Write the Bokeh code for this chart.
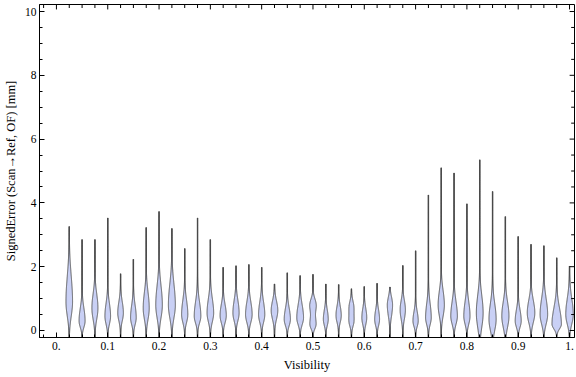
import numpy as np
from bokeh.plotting import figure
from bokeh.models import Range1d, FixedTicker, ColumnDataSource
from bokeh.embed import file_html
from bokeh.resources import INLINE

# ---- data (one violin per visibility bin) ----
visibility = [0.025, 0.05, 0.075, 0.1, 0.125, 0.15, 0.175, 0.2, 0.225, 0.25,
              0.275, 0.3, 0.325, 0.35, 0.375, 0.4, 0.425, 0.45, 0.475, 0.5,
              0.525, 0.55, 0.575, 0.6, 0.625, 0.65, 0.675, 0.7, 0.725, 0.75,
              0.775, 0.8, 0.825, 0.85, 0.875, 0.9, 0.925, 0.95, 0.975, 1.0]
err_max = [3.26, 2.85, 2.85, 3.53, 1.78, 2.23, 3.23, 3.73, 3.20, 2.57,
           3.53, 2.85, 1.98, 2.03, 2.07, 1.98, 1.46, 1.81, 1.72, 1.76,
           1.46, 1.44, 1.31, 1.38, 1.48, 1.36, 2.04, 2.50, 4.25, 5.10,
           4.94, 3.97, 5.35, 4.36, 3.57, 2.95, 2.70, 2.66, 2.28, 2.02]
err_min = [-0.63, -0.60, -0.52, -0.47, -0.37, -0.62, -0.63, -0.60, -0.52, -0.41,
           -0.33, -0.33, -0.31, -0.33, -0.31, -0.29, -0.29, -0.23, -0.29, -0.31,
           -0.33, -0.29, -0.31, -0.31, -0.31, -0.29, -0.31, -0.33, -0.52, -0.44,
           -0.44, -0.26, -1.02, -0.84, -0.73, -0.24, -0.22, -0.37, -0.20, -0.20]
# main mode of each distribution, its spread below / above, relative density
mode1 = [0.90, 0.30, 0.70, 0.45, 0.55, 0.40, 0.70, 0.80, 0.80, 0.50,
         0.45, 0.55, 0.47, 0.55, 0.50, 0.50, 0.63, 0.35, 0.40, 0.20,
         0.35, 0.47, 0.30, 0.40, 0.35, 0.80, 0.65, 0.30, 0.40, 0.80,
         0.45, 0.45, 0.55, 0.35, 0.45, 0.30, 0.55, 0.50, 0.20, 0.50]
spread_lo = [0.45, 0.20, 0.35, 0.25, 0.25, 0.22, 0.35, 0.40, 0.40, 0.25,
             0.22, 0.28, 0.23, 0.25, 0.25, 0.25, 0.28, 0.20, 0.22, 0.15,
             0.20, 0.22, 0.18, 0.22, 0.20, 0.35, 0.30, 0.18, 0.22, 0.35,
             0.25, 0.25, 0.45, 0.35, 0.35, 0.20, 0.30, 0.30, 0.15, 0.30]
spread_hi = [0.80, 0.40, 0.45, 0.40, 0.35, 0.40, 0.50, 0.60, 0.65, 0.45,
             0.45, 0.45, 0.35, 0.40, 0.40, 0.40, 0.30, 0.35, 0.40, 0.25,
             0.30, 0.30, 0.22, 0.30, 0.30, 0.25, 0.30, 0.30, 0.45, 0.45,
             0.45, 0.45, 0.55, 0.50, 0.45, 0.35, 0.40, 0.50, 0.50, 0.50]
density1 = [0.70, 0.64, 0.64, 0.60, 0.60, 0.60, 0.64, 0.70, 0.74, 0.66,
            0.70, 0.70, 0.66, 0.66, 0.70, 0.66, 0.70, 0.66, 0.72, 0.66,
            0.52, 0.56, 0.52, 0.52, 0.52, 0.56, 0.56, 0.56, 0.60, 0.66,
            0.70, 0.66, 0.72, 0.76, 0.76, 0.64, 0.80, 0.80, 1.00, 0.80]
# secondary mode (0 density where there is none)
mode2 = [0.0] * 19 + [0.80] + [0.0] * 2 + [0.75] + [0.0] * 17
spread2 = [0.2] * 40
density2 = [0.0] * 19 + [0.66] + [0.0] * 2 + [0.46] + [0.0] * 17

x_ticks = [0.0, 0.1, 0.2, 0.3, 0.4, 0.5, 0.6, 0.7, 0.8, 0.9, 1.0]
x_tick_labels = ["0.", "0.1", "0.2", "0.3", "0.4", "0.5", "0.6", "0.7", "0.8", "0.9", "1."]
y_ticks = [0, 2, 4, 6, 8, 10]
x_minor = [round(0.025 * k, 3) for k in range(-1, 41)]
y_minor = [0.5 * k for k in range(0, 21)]

# ---- styling ----
HALF_WIDTH = 0.0092   # x-units of the widest violin
FILL = "#c9d0f5"
EDGE = "#4a4a4a"
FONT = "Liberation Serif"
X0, X1 = -0.033, 1.0097
Y0, Y1 = -0.22, 10.22
TICK_MAJOR_X, TICK_MINOR_X = 0.0095, 0.0065   # tick lengths on the right edge
TICK_MAJOR_Y, TICK_MINOR_Y = 0.155, 0.11      # tick lengths on the top edge

xs, ys = [], []
for i, xc in enumerate(visibility):
    y = np.linspace(err_min[i], err_max[i], 300)
    s = np.where(y < mode1[i], spread_lo[i], spread_hi[i])
    w = density1[i] * np.exp(-0.5 * ((y - mode1[i]) / s) ** 2)
    w = w + density2[i] * np.exp(-0.5 * ((y - mode2[i]) / spread2[i]) ** 2)
    w = HALF_WIDTH * w
    xs.append(np.concatenate([xc + w, (xc - w)[::-1]]).tolist())
    ys.append(np.concatenate([y, y[::-1]]).tolist())

p = figure(width=576, height=377, output_backend="svg", toolbar_location=None,
           x_range=Range1d(X0, X1), y_range=Range1d(Y0, Y1),
           min_border_left=36, min_border_right=2, min_border_top=4, min_border_bottom=40)
p.xgrid.visible = False
p.ygrid.visible = False
p.background_fill_color = "white"
p.border_fill_color = "white"
p.outline_line_color = "black"
p.outline_line_width = 1

tails = ColumnDataSource(dict(x=visibility, y0=err_min, y1=err_max))
p.segment(x0="x", y0="y0", x1="x", y1="y1", source=tails,
          line_color="#3a3a3a", line_width=1.4, line_alpha=0.9)
p.patches(xs, ys, fill_color=FILL, line_color=EDGE, line_width=1.0, line_alpha=0.9)

# inward frame ticks on the top and right edges
x_major_set = set(x_ticks)
top_minor = [t for t in x_minor if t not in x_major_set and X0 < t < X1]
p.segment(x0=top_minor, x1=top_minor, y0=[Y1] * len(top_minor),
          y1=[Y1 - TICK_MINOR_Y] * len(top_minor), line_color="black", line_width=1)
p.segment(x0=x_ticks, x1=x_ticks, y0=[Y1] * len(x_ticks),
          y1=[Y1 - TICK_MAJOR_Y] * len(x_ticks), line_color="black", line_width=1)
right_minor = [t for t in y_minor if t not in set(y_ticks)]
p.segment(x0=[X1] * len(right_minor), x1=[X1 - TICK_MINOR_X] * len(right_minor),
          y0=right_minor, y1=right_minor, line_color="black", line_width=1)
p.segment(x0=[X1] * len(y_ticks), x1=[X1 - TICK_MAJOR_X] * len(y_ticks),
          y0=y_ticks, y1=y_ticks, line_color="black", line_width=1)


def style_axis(ax, label_standoff, title_standoff):
    ax.axis_line_color = "black"
    ax.axis_line_width = 1
    ax.major_tick_line_color = "black"
    ax.minor_tick_line_color = "black"
    ax.major_tick_in = 5
    ax.major_tick_out = 0
    ax.minor_tick_in = 3
    ax.minor_tick_out = 0
    ax.major_label_text_font = FONT
    ax.axis_label_text_font = FONT
    ax.axis_label_text_font_style = "normal"
    ax.major_label_text_color = "black"
    ax.axis_label_text_color = "black"
    ax.major_label_text_font_size = "11.5px"
    ax.axis_label_text_font_size = "12.5px"
    ax.major_label_standoff = label_standoff
    ax.axis_label_standoff = title_standoff


p.xaxis.ticker = FixedTicker(ticks=x_ticks, minor_ticks=x_minor)
p.xaxis.major_label_overrides = {t: l for t, l in zip(x_ticks, x_tick_labels)}
p.xaxis.axis_label = "Visibility"
p.yaxis.ticker = FixedTicker(ticks=y_ticks, minor_ticks=y_minor)
p.yaxis.axis_label = "SignedError (Scan\u2192Ref, OF) [mm]"
style_axis(p.xaxis[0], 4, 5)
style_axis(p.yaxis[0], 3, 4)

open("out.html", "w").write(file_html(p, INLINE))
